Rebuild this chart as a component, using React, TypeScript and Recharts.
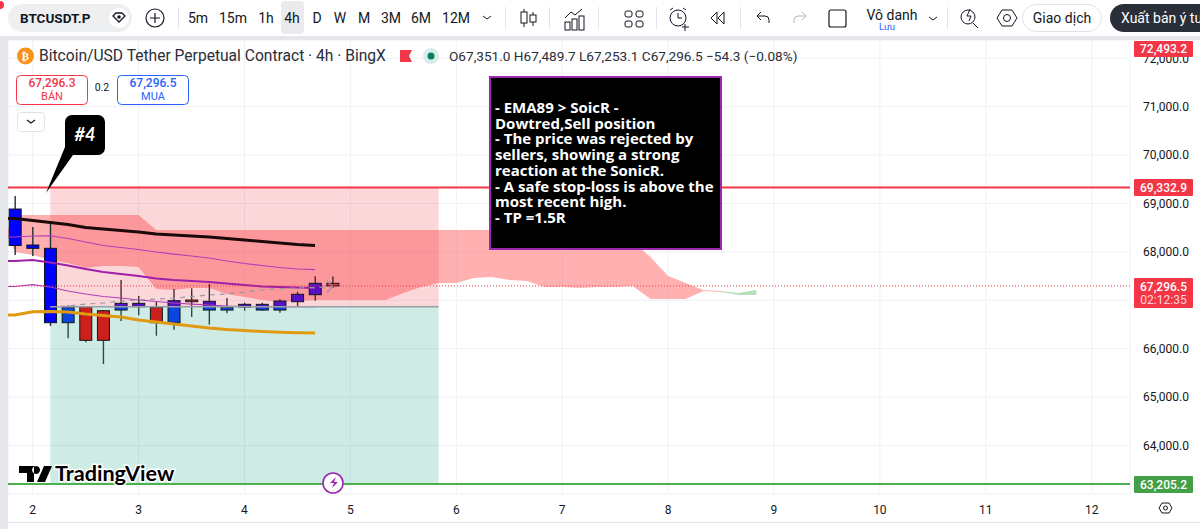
import React from "react";
import { ComposedChart, Area, Bar, Line, XAxis, YAxis, CartesianGrid, ReferenceArea, ReferenceLine } from "recharts";

const dayTickIndex = [1, 7, 13, 19, 25, 31, 37, 43, 49, 55, 61];
const dayLabels = ["2", "3", "4", "5", "6", "7", "8", "9", "10", "11", "12"];
const priceTicks = [64000, 65000, 66000, 67000, 68000, 69000, 70000, 71000, 72000];

const opens = [68132, 68142, 68074, 66537, 66868, 66785, 66799, 66868, 66855, 66537, 67006, 66799, 66799, 66861, 66799, 66799, 66971, 67116, 67351];
const closes = [68886, 68074, 66537, 66855, 66173, 66173, 66938, 66938, 66537, 66992, 66971, 66979, 66855, 66917, 66917, 66985, 67124, 67351, 67296.5];
const highs = [69155, 68514, 68597, 66897, 66882, 66799, 67419, 67089, 66965, 67233, 67248, 67337, 67047, 66950, 66950, 67020, 67177, 67496, 67489.7];
const lows = [67936, 67915, 66469, 66215, 66132, 65684, 66572, 66690, 66268, 66393, 66655, 66496, 66731, 66785, 66785, 66744, 66868, 66992, 67253.1];
const redCandle = [false, false, false, false, true, true, false, false, true, false, true, false, false, false, false, false, false, false, true];

const ema1 = [68690, 68648, 68607, 68566, 68504, 68473, 68442, 68411, 68370, 68349, 68328, 68308, 68277, 68246, 68215, 68184, 68153, 68132];
const upperMagenta = [68308, 68328, 68334, 68277, 68204, 68132, 68091, 68049, 67998, 67956, 67915, 67874, 67812, 67760, 67719, 67678, 67647, 67632];
const midPurple = [67812, 67832, 67781, 67719, 67647, 67584, 67543, 67502, 67450, 67419, 67399, 67378, 67347, 67316, 67285, 67275, 67264, 67254];
const lowerMagenta = [67285, 67322, 67275, 67192, 67130, 67078, 67047, 67006, 66975, 66944, 66923, 66903, 66882, 66872, 66868, 66868, 66868, 66868];
const orangeLine = [66696, 66764, 66768, 66758, 66717, 66686, 66655, 66593, 66552, 66510, 66469, 66428, 66397, 66376, 66355, 66341, 66329, 66325];
const projection = [null, null, 66868, 66882, 66923, 66944, 66985, 67006, 67027, 67047, 67078, 67109, 67130, 67171, 67213, 67239, 67254, 67264, 67281];

const cloudTop = [68762, 68762, 68762, 68762, 68762, 68762, 68762, 68762, 68452, 68452, 68452, 68452, 68452, 68452, 68452, 68452, 68452, 68452, 68452, 68452, 68452, 68452, 68452, 68452, 68452, 68452, 68452, 68452, 68452, 68452, 68452, 68452, 68452, 68452, 68452, 68204, 67895, 67502, 67357, 67212, 67192];
const cloudBottom = [67998, 67936, 67832, 67770, 67667, 67708, 67708, 67688, 67233, 67212, 67254, 67254, 67130, 67068, 67006, 66965, 66985, 67006, 67006, 67006, 67006, 67006, 67151, 67275, 67357, 67357, 67461, 67481, 67419, 67399, 67275, 67275, 67254, 67275, 67275, 67295, 67026, 67026, 67026, 67192, 67171];
const cloudLeftEdge = [68762, 68039];
const greenTop = [67192, 67151, 67212];
const greenBottom = [67171, 67110, 67110];

const lastPrice = 67296.5;
const stopPrice = 69332.9;
const entryPrice = 66868;
const targetPrice = 63205.2;
const positionStartIndex = 2;
const positionEndIndex = 24;
const noteLines = ["- EMA89 > SoicR -", "Dowtred,Sell position", "- The price was rejected by", "sellers, showing a strong", "reaction at the SonicR.", "- A safe stop-loss is above the", "most recent high.", "- TP =1.5R"];
const intervals: [string, number][] = [["5m", 198], ["15m", 233], ["1h", 266], ["4h", 292], ["D", 317], ["W", 340], ["M", 364], ["3M", 391], ["6M", 421], ["12M", 456]];

const leftEdgeIndex = -0.397;
const rows: any[] = [{
  idx: -1, ema1: ema1[0], up: upperMagenta[0], mid: midPurple[0], low: lowerMagenta[0], orange: orangeLine[0],
  cloud: cloudLeftEdge,
}];
for (let i = 0; i <= 42; i++) {
  rows.push({
    idx: i,
    open: opens[i], close: closes[i], isRed: redCandle[i],
    range: i < highs.length ? [lows[i], highs[i]] : undefined,
    ema1: ema1[i], up: upperMagenta[i], mid: midPurple[i], low: lowerMagenta[i], orange: orangeLine[i],
    proj: projection[i] ?? undefined,
    cloud: i < cloudTop.length ? [cloudBottom[i], cloudTop[i]] : undefined,
    green: i >= 40 ? [greenBottom[i - 40], greenTop[i - 40]] : undefined,
  });
}

const Candle = (props: any) => {
  const { x, y, width, height, payload } = props;
  if (!payload || !payload.range || height == null) return null;
  const [lo, hi] = payload.range;
  const h = Math.abs(height);
  const top = Math.min(y, y + height);
  const k = h / (hi - lo);
  const bTop = top + (hi - Math.max(payload.open, payload.close)) * k;
  const bH = Math.max(1.5, Math.abs(payload.open - payload.close) * k);
  const bBot = bTop + bH;
  const cx = x + width / 2;
  const inPosition = payload.idx > positionStartIndex;
  const eY = inPosition ? top + (hi - entryPrice) * k : top + h + 1000;
  const upFill = !inPosition ? (payload.isRed ? "#d61f1f" : "#0000ff") : payload.isRed ? "#f02a3a" : "#5412c4";
  const dnFill = payload.isRed ? "#cc201c" : "#0a46dc";
  const wickUp = inPosition ? "#4a2a34" : "#1e3038";
  const wickDn = "#2c4a4c";
  const split = Math.min(Math.max(eY, bTop), bBot);
  const wSplit = Math.min(Math.max(eY, top), top + h);
  return (
    <g>
      <line x1={cx} x2={cx} y1={top} y2={wSplit} stroke={wickUp} strokeWidth={1.4} />
      <line x1={cx} x2={cx} y1={wSplit} y2={top + h} stroke={wickDn} strokeWidth={1.4} />
      <rect x={x} y={bTop} width={width} height={split - bTop} fill={upFill} />
      <rect x={x} y={split} width={width} height={bBot - split} fill={dnFill} />
      <rect x={x} y={bTop} width={width} height={bH} fill="none" stroke="#10181c" strokeWidth={1} />
    </g>
  );
};

const ArrowEnd = (props: any) => {
  const { cx, cy, index } = props;
  if (props.payload?.idx !== 18) return <g key={index} />;
  return <path key={index} d={`M${cx - 6} ${cy - 6}L${cx} ${cy}L${cx - 6} ${cy + 6}`} fill="none" stroke="#9598a1" strokeWidth={1.2} />;
};

const Txt = (p: any) => <text fontFamily="Roboto" fontSize={14} fill="#131722" textAnchor="middle" {...p} />;
const I = "#131722";

const Overlay = () => (
  <svg width={1200} height={529} style={{ position: "absolute", left: 0, top: 0, pointerEvents: "none" }}>
    <rect x={0} y={0} width={1200} height={36} fill="#fff" />
    <rect x={0} y={36} width={1200} height={4} fill="#e6e7ea" />
    <rect x={0} y={36} width={8} height={493} fill="#e6e7ea" />
    <rect x={8} y={522} width={1192} height={1} fill="#e0e3eb" />
    <circle cx={0} cy={5} r={4} fill="#f23645" />
    <rect x={8} y={4} width={124} height={28} rx={14} fill="#eeeff1" />
    <text x={20} y={23} fontFamily="Roboto" fontSize={13.5} fontWeight={700} fill={I}>BTCUSDT.P</text>
    <circle cx={119} cy={18} r={10} fill="#fff" />
    <path d="M113 16l3-3h6l3 3-6 6z" fill="none" stroke={I} strokeWidth={1.3} />
    <circle cx={119} cy={17} r={1.8} fill={I} />
    <circle cx={155} cy={18} r={9} fill="none" stroke={I} strokeWidth={1.2} />
    <path d="M155 13v10M150 18h10" stroke={I} strokeWidth={1.2} />
    <rect x={178} y={7} width={1} height={22} fill="#e0e3eb" />
    <rect x={281} y={1} width={23} height={33} rx={4} fill="#ebebed" />
    {intervals.map(([t, c]) => <Txt key={t} x={c} y={23}>{t}</Txt>)}
    <path d="M483 16l4 3 4-3" fill="none" stroke={I} />
    <rect x={505} y={7} width={1} height={22} fill="#e0e3eb" />
    <path d="M524 9v18M533 12v14" stroke={I} />
    <rect x={521} y={12} width={6} height={11} fill="#fff" stroke={I} />
    <rect x={530} y={15} width={6} height={7} fill="#fff" stroke={I} />
    <rect x={549} y={7} width={1} height={22} fill="#e0e3eb" />
    <path d="M565 18l6-6 4 3 7-6" fill="none" stroke={I} />
    <rect x={565} y={22} width={5} height={8} fill="none" stroke={I} />
    <rect x={572} y={19} width={5} height={11} fill="none" stroke={I} />
    <rect x={579} y={16} width={5} height={14} fill="none" stroke={I} />
    <rect x={598} y={7} width={1} height={22} fill="#e0e3eb" />
    <rect x={625} y={11} width={7} height={6} rx={2} fill="none" stroke={I} />
    <rect x={636} y={11} width={7} height={6} rx={2} fill="none" stroke={I} />
    <rect x={625} y={21} width={7} height={6} rx={2} fill="none" stroke={I} />
    <rect x={636} y={21} width={7} height={6} rx={2} fill="none" stroke={I} />
    <rect x={656} y={7} width={1} height={22} fill="#e0e3eb" />
    <circle cx={678} cy={18} r={8} fill="none" stroke={I} />
    <path d="M678 13v5h4M685 24v7M682 27h7M670 10l3-2M686 10l-3-2" fill="none" stroke={I} />
    <path d="M717 12l-6 6 6 6zM724 12l-6 6 6 6z" fill="none" stroke={I} />
    <rect x={740} y={7} width={1} height={22} fill="#e0e3eb" />
    <path d="M757 16h8a4 4 0 0 1 4 4v3M757 16l4-4M757 16l4 4" fill="none" stroke={I} />
    <path d="M806 16h-8a4 4 0 0 0-4 4v3M806 16l-4-4M806 16l-4 4" fill="none" stroke="#b2b5be" />
    <rect x={829} y={10} width={17} height={17} rx={2} fill="none" stroke={I} strokeWidth={1.2} />
    <Txt x={892} y={20}>Vô danh</Txt>
    <Txt x={887} y={30} fontSize={9.5} fill="#2962ff">Lưu</Txt>
    <path d="M929 17l4 3 4-3" fill="none" stroke={I} />
    <rect x={947} y={7} width={1} height={22} fill="#e0e3eb" />
    <circle cx={968} cy={17} r={7} fill="none" stroke={I} />
    <path d="M973 23l5 5M970 9l-3 7h4l-2 5" fill="none" stroke={I} />
    <path d="M997 18l5-8h10l5 8-5 8h-10z" fill="none" stroke={I} />
    <circle cx={1007} cy={18} r={3.5} fill="none" stroke={I} />
    <rect x={1022.5} y={4.5} width={79} height={27} rx={13.5} fill="#fff" stroke="#e0e3eb" />
    <Txt x={1062} y={23}>Giao dịch</Txt>
    <rect x={1110} y={4} width={110} height={28} rx={14} fill="#2a2e39" />
    <text x={1121} y={23} fontFamily="Roboto" fontSize={14} fill="#fff">Xuất bản ý tư</text>

    <circle cx={25.5} cy={56} r={8.5} fill="#f7931a" />
    <text x={25.5} y={60} fontSize={11} fontFamily="DejaVu Sans" fontWeight={700} fill="#fff" textAnchor="middle">₿</text>
    <text x={39} y={61} fontFamily="Roboto" fontSize={15.6} fill="#2a2e39">Bitcoin/USD Tether Perpetual Contract · 4h · BingX</text>
    <path d="M400 50h12l-3 6 3 6h-12z" fill="#f23645" />
    <circle cx={431} cy={56} r={8} fill="#d7eee9" />
    <circle cx={431} cy={56} r={3.5} fill="#0d7a66" />
    <text x={449} y={61} fontFamily="Roboto" fontSize={13.6} fill="#2a2e39">O67,351.0  H67,489.7  L67,253.1  C67,296.5  −54.3 (−0.08%)</text>

    <rect x={16.5} y={75.5} width={71} height={29} rx={4} fill="#fff" stroke="#f23645" />
    <text x={52} y={87} fontFamily="Roboto" fontSize={12} fontWeight={500} fill="#f23645" textAnchor="middle">67,296.3</text>
    <text x={52} y={100} fontFamily="Roboto" fontSize={11} fill="#f23645" textAnchor="middle">BÁN</text>
    <text x={102} y={91} fontFamily="Roboto" fontSize={10.5} fill="#131722" textAnchor="middle">0.2</text>
    <rect x={117.5} y={75.5} width={71} height={29} rx={4} fill="#fff" stroke="#2962ff" />
    <text x={153} y={87} fontFamily="Roboto" fontSize={12} fontWeight={500} fill="#2962ff" textAnchor="middle">67,296.5</text>
    <text x={153} y={100} fontFamily="Roboto" fontSize={11} fill="#2962ff" textAnchor="middle">MUA</text>
    <rect x={17.5} y={112.5} width={27} height={19} rx={3} fill="#fff" stroke="#e0e3eb" />
    <path d="M27 120l4 3 4-3" fill="none" stroke={I} strokeWidth={1.2} />

    <path d="M72 115H98a7 7 0 0 1 7 7V148a7 7 0 0 1-7 7H73L46 193L65 147V122a7 7 0 0 1 7-7z" fill="#000" />
    <text x={85} y={141} fontFamily="Lato" fontSize={18} fontWeight={700} fontStyle="italic" fill="#fff" textAnchor="middle">#4</text>

    <rect x={490} y={77} width={231} height={172} fill="#000" stroke="#9c27b0" strokeWidth={2} />
    {noteLines.map((t, i) => (
      <text key={i} x={495} y={113 + i * 15.7} fontFamily="Open Sans" fontSize={15} fontWeight={700} fill="#fff">{t}</text>
    ))}

    <rect x={1134} y={41} width={59} height={16} rx={1} fill="#f23645" />
    <text x={1163.5} y={53} fontFamily="Roboto" fontSize={12} fontWeight={500} fill="#fff" textAnchor="middle">72,493.2</text>
    <rect x={1134} y={179} width={59} height={17} rx={1} fill="#f23645" />
    <text x={1163.5} y={192} fontFamily="Roboto" fontSize={12} fontWeight={500} fill="#fff" textAnchor="middle">69,332.9</text>
    <rect x={1134} y={278} width={59} height={30} rx={1} fill="#f23645" />
    <text x={1163.5} y={291} fontFamily="Roboto" fontSize={12} fontWeight={500} fill="#fff" textAnchor="middle">67,296.5</text>
    <text x={1163.5} y={304} fontFamily="Roboto" fontSize={12} fill="#ffd5d8" textAnchor="middle">02:12:35</text>
    <rect x={1134} y={476} width={59} height={17} rx={1} fill="#43a047" />
    <text x={1163.5} y={489} fontFamily="Roboto" fontSize={12} fontWeight={500} fill="#fff" textAnchor="middle">63,205.2</text>

    <path d="M19 466h15v16h-7v-9h-8zM36 466a4 4 0 1 0 .1 0zM44 466h8l-7 16h-8z" fill="#000" />
    <text x={55} y={481} fontFamily="Lato" fontSize={21.6} fontWeight={700} fill="#000" stroke="#fff" strokeWidth={3} paintOrder="stroke">TradingView</text>

    <circle cx={333} cy={483} r={10} fill="#fff" stroke="#9c27b0" strokeWidth={1.6} />
    <path d="M336 477l-6 6h4l-2 5 6-6h-4z" fill="#9c27b0" />

    <path d="M1159 508l3-5h7l3 5-3 5h-7z" fill="none" stroke={I} />
    <circle cx={1165.5} cy={508} r={2} fill="none" stroke={I} />
  </svg>
);

export default function App() {
  return (
    <div style={{ position: "absolute", left: 0, top: 0, width: 1200, height: 529, background: "#fff", overflow: "hidden" }}>
      <ComposedChart
        width={1200}
        height={529}
        data={rows}
        margin={{ top: 40, right: 0, bottom: 0, left: 8 }}
      >
        <CartesianGrid stroke="#f0f1f5" />
        <XAxis
          dataKey="idx"
          type="number"
          domain={[leftEdgeIndex, 63.17]}
          allowDataOverflow
          ticks={dayTickIndex}
          tickFormatter={(v: number) => dayLabels[dayTickIndex.indexOf(v)]}
          axisLine={false}
          tickLine={false}
          height={35}
          tick={{ fontFamily: "Roboto", fontSize: 12, fill: "#131722" }}
          tickMargin={5}
          interval={0}
        />
        <YAxis
          orientation="right"
          type="number"
          domain={[62998, 72378]}
          allowDataOverflow
          ticks={priceTicks}
          tickFormatter={(v: number) => v.toLocaleString("en-US", { minimumFractionDigits: 1 })}
          axisLine={false}
          tickLine={false}
          width={70}
          tick={{ fontFamily: "Roboto", fontSize: 12, fill: "#131722" }}
          tickMargin={7}
          interval={0}
        />
        <Area dataKey="cloud" stroke="none" fill="#ff5252" fillOpacity={0.45} isAnimationActive={false} dot={false} activeDot={false} />
        <Area dataKey="green" stroke="none" fill="#4caf50" fillOpacity={0.4} isAnimationActive={false} dot={false} activeDot={false} />
        <Line dataKey="ema1" stroke="#1c0a0a" strokeWidth={3} dot={false} activeDot={false} isAnimationActive={false} />
        <Line dataKey="up" stroke="#b13fb8" strokeWidth={1.2} dot={false} activeDot={false} isAnimationActive={false} />
        <Line dataKey="mid" stroke="#a01fa8" strokeWidth={2} dot={false} activeDot={false} isAnimationActive={false} />
        <Line dataKey="low" stroke="#b13fb8" strokeWidth={1.2} dot={false} activeDot={false} isAnimationActive={false} />
        <Line dataKey="orange" stroke="#e09a12" strokeWidth={3} dot={false} activeDot={false} isAnimationActive={false} />
        <Bar dataKey="range" barSize={12} shape={<Candle />} isAnimationActive={false} />
        <Line dataKey="proj" stroke="#9598a1" strokeWidth={1.2} strokeDasharray="5 5" dot={<ArrowEnd />} activeDot={false} isAnimationActive={false} />
        <ReferenceArea x1={positionStartIndex} x2={positionEndIndex} y1={entryPrice} y2={stopPrice} fill="#f23645" fillOpacity={0.2} stroke="none" />
        <ReferenceArea x1={positionStartIndex} x2={positionEndIndex} y1={targetPrice} y2={entryPrice} fill="#089981" fillOpacity={0.2} stroke="none" />
        <ReferenceLine segment={[{ x: positionStartIndex, y: entryPrice }, { x: positionEndIndex, y: entryPrice }]} stroke="#9a9ea6" strokeWidth={1.5} />
        <ReferenceLine y={lastPrice} stroke="#f23645" strokeWidth={1} strokeDasharray="1 2" />
        <ReferenceLine y={stopPrice} stroke="#f23645" strokeWidth={2} />
        <ReferenceLine y={targetPrice} stroke="#4caf50" strokeWidth={2} />
      </ComposedChart>
      <Overlay />
    </div>
  );
}
